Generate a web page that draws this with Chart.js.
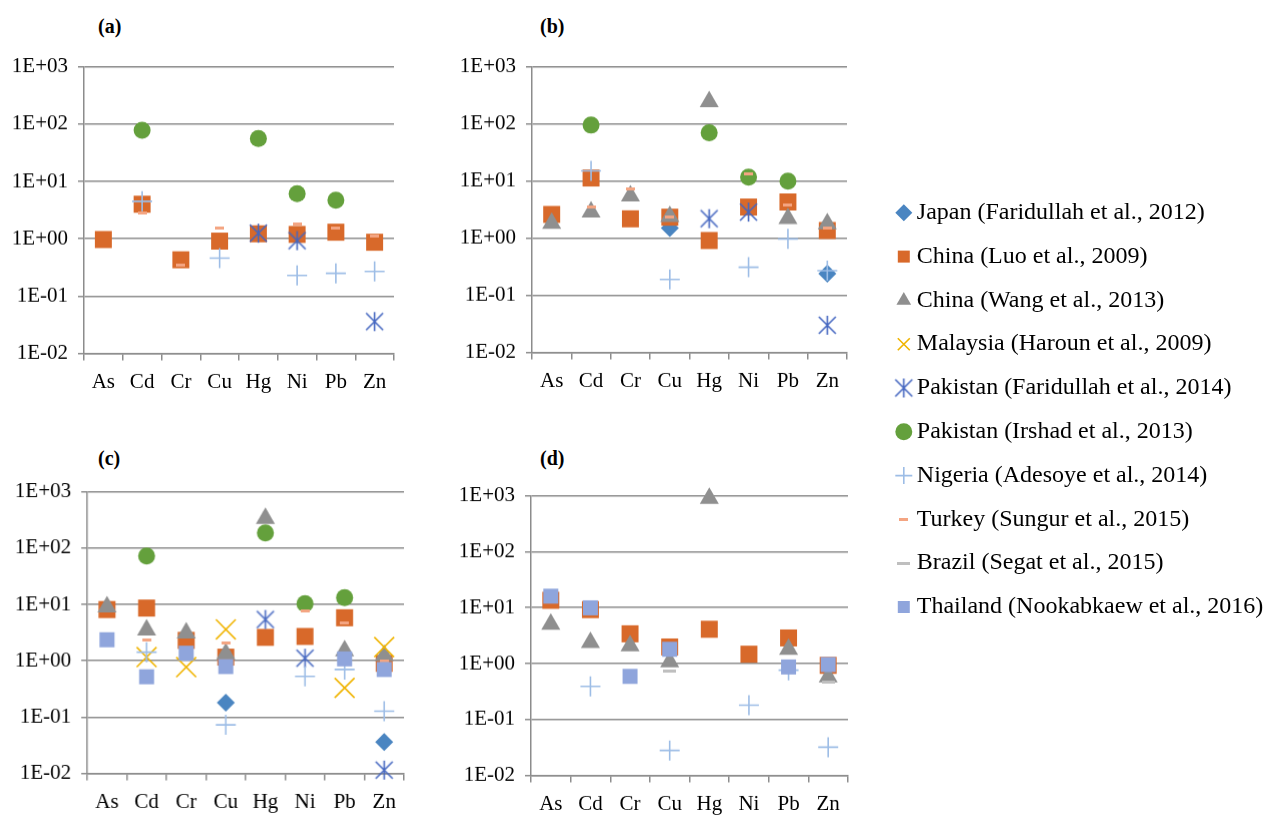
<!DOCTYPE html>
<html>
<head>
<meta charset="utf-8">
<script src="https://cdn.jsdelivr.net/npm/chart.js@4.4.1/dist/chart.umd.min.js"></script>
<style>
  html, body { margin: 0; padding: 0; background: #fff; width: 1264px; height: 816px; overflow: hidden; }
  canvas { position: absolute; }
  .tag { position: absolute; font: bold 20px 'Liberation Serif', serif; color: #000; }
</style>
</head>
<body>
<div class="tag" style="left:98px;top:15px">(a)</div>
<div class="tag" style="left:540px;top:15px">(b)</div>
<div class="tag" style="left:98px;top:447px">(c)</div>
<div class="tag" style="left:540px;top:447px">(d)</div>
<canvas id="ca"></canvas>
<canvas id="cb"></canvas>
<canvas id="cc"></canvas>
<canvas id="cd"></canvas>
<canvas id="cl"></canvas>
<script>
// categories and axis ticks
const metals = ['As', 'Cd', 'Cr', 'Cu', 'Hg', 'Ni', 'Pb', 'Zn'];
const yTickValues = [0.01, 0.1, 1, 10, 100, 1000];
const yTickLabels = ['1E-02', '1E-01', '1E+00', '1E+01', '1E+02', '1E+03'];
const seriesNames = [
  'Japan (Faridullah et al., 2012)',
  'China (Luo et al., 2009)',
  'China (Wang et al., 2013)',
  'Malaysia (Haroun et al., 2009)',
  'Pakistan (Faridullah et al., 2014)',
  'Pakistan (Irshad et al., 2013)',
  'Nigeria (Adesoye et al., 2014)',
  'Turkey (Sungur et al., 2015)',
  'Brazil (Segat et al., 2015)',
  'Thailand (Nookabkaew et al., 2016)'
];

// panel (a)
const aLuo = [0.97, 4.0, 0.43, 0.91, 1.22, 1.19, 1.3, 0.87];
const aFaridullah14 = [null, null, null, null, 1.25, 0.93, null, 0.036];
const aIrshad = [null, 78, null, null, 56, 6.1, 4.7, null];
const aNigeria = [null, 4.5, null, 0.46, null, 0.23, 0.25, 0.27];
const aTurkey = [null, 2.8, 0.34, 1.55, null, 1.8, 1.53, 1.1];

// panel (b)
const bJapan = [null, null, null, 1.5, null, null, null, 0.24];
const bLuo = [2.6, 11.3, 2.18, 2.33, 0.91, 3.5, 4.3, 1.36];
const bWang = [1.83, 2.86, 5.5, 2.4, 243, null, 2.2, 1.78];
const bFaridullah14 = [null, null, null, null, 2.2, 2.86, null, 0.03];
const bIrshad = [null, 95, null, null, 70, 11.7, 9.9, null];
const bNigeria = [null, 15, null, 0.19, null, 0.31, 0.97, 0.27];
const bTurkey = [null, 3.5, 7.3, 2.3, null, 13.1, 3.85, 1.52];

// panel (c)
const cJapan = [null, null, null, 0.18, null, null, null, 0.036];
const cLuo = [8.1, 8.6, 2.3, 1.16, 2.6, 2.7, 5.8, 0.9];
const cWang = [9, 3.5, 3.1, 1.33, 335, null, 1.5, 1.24];
const cHaroun = [null, 1.16, 0.77, 3.6, null, null, 0.33, 1.75];
const cFaridullah14 = [null, null, null, null, 5.4, 1.11, null, 0.0115];
const cIrshad = [null, 72, null, null, 186, 10.3, 13.2, null];
const cNigeria = [null, 1.42, null, 0.073, null, 0.53, 0.7, 0.127];
const cTurkey = [null, 2.3, null, 2.05, null, 7.6, 4.7, 1.0];
const cThailand = [2.36, 0.52, 1.36, 0.79, null, null, 1.08, 0.7];

// panel (d)
const dLuo = [13.5, 9.2, 3.4, 1.98, 4.1, 1.47, 2.87, 0.93];
const dWang = [5.05, 2.37, 2.07, 1.07, 900, null, 1.8, 0.58];
const dNigeria = [null, 0.39, null, 0.028, null, 0.18, 0.76, 0.032];
const dBrazil = [null, null, null, 0.72, null, null, 0.8, 0.47];
const dThailand = [16, 9.9, 0.59, 1.8, null, null, 0.87, 0.96];

const panelA = [null, aLuo, null, null, aFaridullah14, aIrshad, aNigeria, aTurkey, null, null];
const panelB = [bJapan, bLuo, bWang, null, bFaridullah14, bIrshad, bNigeria, bTurkey, null, null];
const panelC = [cJapan, cLuo, cWang, cHaroun, cFaridullah14, cIrshad, cNigeria, cTurkey, null, cThailand];
const panelD = [null, dLuo, dWang, null, null, null, dNigeria, null, dBrazil, dThailand];

// marker images for the shapes Chart.js doesn't have
function markerCanvas(w, h, draw) {
  const c = document.createElement('canvas');
  c.width = w;
  c.height = h;
  draw(c.getContext('2d'));
  return c;
}
const asterisk = markerCanvas(21, 21, g => {
  g.strokeStyle = '#4466c0';
  g.lineWidth = 1.6;
  g.beginPath();
  g.moveTo(2, 2); g.lineTo(19, 19);
  g.moveTo(19, 2); g.lineTo(2, 19);
  g.moveTo(10.5, 1); g.lineTo(10.5, 20);
  g.stroke();
});
const turkeyDash = markerCanvas(9, 3, g => { g.fillStyle = '#f4a582'; g.fillRect(0, 0, 9, 3); });
const brazilDash = markerCanvas(13, 3, g => { g.fillStyle = '#bfbfbf'; g.fillRect(0, 0, 13, 3); });

const markers = [
  { style: 'rectRot', r: 9, color: '#4a85c1', bw: 0 },
  { style: 'rect', r: 12, color: '#d8692a', bw: 0 },
  { style: 'triangle', r: 11, color: '#8f8f8f', bw: 0 },
  { style: 'crossRot', r: 14, color: '#f0b400', bw: 1.6 },
  { style: asterisk, r: 10, color: '#4466c0', bw: 0 },
  { style: 'circle', r: 8.5, color: '#64a03c', bw: 0 },
  { style: 'cross', r: 10, color: '#9dbde6', bw: 1.6 },
  { style: turkeyDash, r: 5, color: '#f4a582', bw: 0 },
  { style: brazilDash, r: 6, color: '#bfbfbf', bw: 0 },
  { style: 'rect', r: 10.6, color: '#8fa5dc', bw: 0 }
];

const AX = '#8c8c8c';
const FONT = 'Liberation Serif';
const YW = 84, XH = 52;

function makeDataset(i, values, order) {
  const m = markers[i];
  return {
    label: seriesNames[i],
    data: values,
    showLine: false,
    clip: false,
    order: order,
    pointStyle: m.style,
    pointRadius: m.r,
    pointHoverRadius: m.r,
    backgroundColor: m.color,
    borderColor: m.color,
    pointBackgroundColor: m.color,
    pointBorderColor: m.color,
    pointBorderWidth: m.bw
  };
}

// wanted plot rectangles on the page
const panels = [
  { id: 'ca', left: 84, top: 67, w: 310, h: 286, data: panelA },
  { id: 'cb', left: 532, top: 67, w: 315, h: 285, data: panelB },
  { id: 'cc', left: 87, top: 492, w: 316, h: 281, data: panelC },
  { id: 'cd', left: 531, top: 496, w: 317, h: 279, data: panelD }
];

panels.forEach(p => {
  const cv = document.getElementById(p.id);
  cv.width = YW + p.w + 10;
  cv.height = 16 + p.h + XH;

  const datasets = [];
  p.data.forEach((values, i) => {
    // later series on top, like the original
    if (values) datasets.push(makeDataset(i, values, 10 - i));
  });

  const chart = new Chart(cv, {
    type: 'line',
    data: { labels: metals, datasets: datasets },
    options: {
      responsive: false,
      maintainAspectRatio: false,
      animation: false,
      events: [],
      layout: { padding: { top: 16, right: 10, left: 0, bottom: 0 } },
      plugins: { legend: { display: false }, tooltip: { enabled: false } },
      scales: {
        x: {
          offset: true,
          grid: { offset: true, drawOnChartArea: false, tickLength: 7, color: AX, lineWidth: 1.5 },
          border: { color: AX, width: 1.5 },
          ticks: { font: { family: FONT, size: 21 }, color: '#000', padding: 9, autoSkip: false, maxRotation: 0 },
          afterFit: s => { s.height = XH; }
        },
        y: {
          type: 'logarithmic',
          min: 0.01,
          max: 1000,
          afterBuildTicks: s => { s.ticks = yTickValues.map(v => ({ value: v })); },
          ticks: {
            font: { family: FONT, size: 21 },
            color: '#000',
            padding: 10,
            callback: (v, i) => yTickLabels[i]
          },
          grid: { color: AX, lineWidth: 1.5, tickLength: 6 },
          border: { color: AX, width: 1.5 },
          afterFit: s => { s.width = YW; }
        }
      }
    }
  });

  // size the canvas so the plot area gets the wanted size, then place it
  const a = chart.chartArea;
  const dw = p.w - (a.right - a.left);
  const dh = p.h - (a.bottom - a.top);
  if (dw || dh) chart.resize(cv.width + dw, cv.height + dh);
  const a2 = chart.chartArea;
  cv.style.left = (p.left - a2.left) + 'px';
  cv.style.top = (p.top - a2.top) + 'px';
});

// legend on its own canvas
const lc = document.getElementById('cl');
lc.width = 381;
lc.height = 470;
lc.style.left = '883px';
lc.style.top = '181px';
new Chart(lc, {
  type: 'line',
  data: {
    labels: [''],
    datasets: seriesNames.map((n, i) => makeDataset(i, [null], i))
  },
  options: {
    responsive: false,
    animation: false,
    events: [],
    plugins: {
      tooltip: { enabled: false },
      legend: {
        position: 'top',
        align: 'start',
        maxHeight: 470,
        labels: {
          usePointStyle: true,
          boxWidth: 2,
          boxHeight: 12,
          padding: 19.8,
          color: '#000',
          font: { family: FONT, size: 24 }
        }
      }
    },
    scales: { x: { display: false }, y: { display: false } }
  }
});
</script>
</body>
</html>
